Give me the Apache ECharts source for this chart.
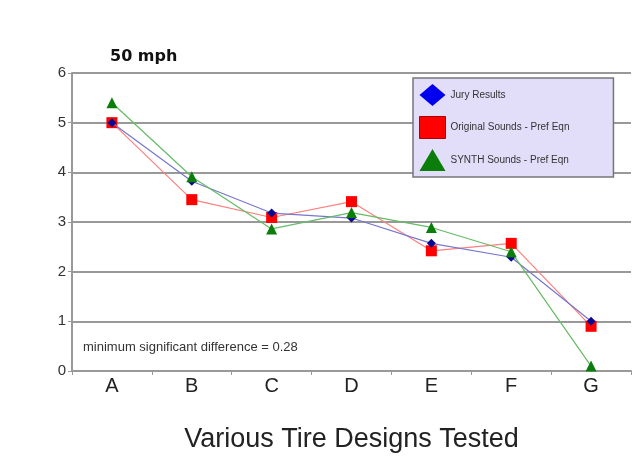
<!DOCTYPE html>
<html>
<head>
<meta charset="utf-8">
<script src="https://cdn.jsdelivr.net/npm/echarts@6/dist/echarts.min.js"></script>
<style>
  html, body { margin: 0; padding: 0; background: #fff; }
  #chart { width: 634px; height: 458px; }
</style>
</head>
<body>
<div id="chart"></div>
<script>
// tire designs on the x axis
const categories = ['A', 'B', 'C', 'D', 'E', 'F', 'G']
const yTicks = [0, 1, 2, 3, 4, 5, 6]

const juryResults = [5.0, 3.82, 3.18, 3.08, 2.57, 2.29, 1.0]
const originalSounds = [5.0, 3.45, 3.09, 3.41, 2.42, 2.57, 0.9]
const synthSounds = [5.4, 3.91, 2.86, 3.19, 2.89, 2.4, 0.1]

const chart = echarts.init(document.getElementById('chart'))

chart.setOption({
  animation: false,
  textStyle: { fontFamily: 'Liberation Sans, Arial, sans-serif' },
  title: {
    text: '50 mph',
    left: 105,
    top: 44,
    textStyle: { fontSize: 16, fontWeight: 'bold', color: '#111', fontFamily: 'DejaVu Sans, sans-serif' }
  },
  grid: { left: 72, right: 3, top: 73, bottom: 87, outerBoundsMode: 'none' },
  legend: {
    orient: 'vertical',
    left: 413,
    top: 78,
    backgroundColor: '#e2ddf9',
    borderColor: '#777',
    borderWidth: 1.5,
    borderRadius: 0,
    padding: [6, 44, 6, 6],
    itemWidth: 26,
    itemHeight: 22,
    itemGap: 10,
    textStyle: { fontSize: 10, color: '#333' },
    data: [
      { name: 'Jury Results', icon: 'diamond', itemStyle: { color: '#0000ee' } },
      { name: 'Original Sounds - Pref Eqn', icon: 'rect', itemStyle: { color: '#ff0000', borderColor: '#a00', borderWidth: 1 } },
      { name: 'SYNTH Sounds - Pref Eqn', icon: 'triangle', itemStyle: { color: '#0a7d0a' } }
    ]
  },
  xAxis: {
    type: 'category',
    data: categories,
    boundaryGap: true,
    name: 'Various Tire Designs Tested',
    nameLocation: 'middle',
    nameGap: 55,
    nameTextStyle: { fontSize: 27, color: '#222' },
    axisLine: { lineStyle: { color: '#999', width: 2 } },
    axisTick: { show: true, length: 4, lineStyle: { color: '#999' } },
    axisLabel: { fontSize: 20, color: '#222', margin: 5 }
  },
  yAxis: {
    type: 'value',
    min: yTicks[0],
    max: yTicks[yTicks.length - 1],
    interval: 1,
    axisLine: { show: true, lineStyle: { color: '#999', width: 2 } },
    axisTick: { show: true, length: 4, lineStyle: { color: '#999' } },
    axisLabel: { fontSize: 15, color: '#333', margin: 6 },
    splitLine: { lineStyle: { color: '#999', width: 2 } }
  },
  graphic: [
    {
      type: 'text',
      left: 83,
      top: 341,
      style: { text: 'minimum significant difference = 0.28', fontSize: 13, fill: '#333', fontFamily: 'Liberation Sans, Arial, sans-serif' }
    }
  ],
  series: [
    {
      name: 'Jury Results',
      type: 'line',
      data: juryResults,
      symbol: 'diamond',
      symbolSize: 9,
      itemStyle: { color: '#0a0a90' },
      lineStyle: { color: '#7777cc', width: 1.2 },
      z: 3
    },
    {
      name: 'Original Sounds - Pref Eqn',
      type: 'line',
      data: originalSounds,
      symbol: 'rect',
      symbolSize: 11,
      itemStyle: { color: '#ff0000' },
      lineStyle: { color: '#ff7f7f', width: 1.2 },
      z: 2
    },
    {
      name: 'SYNTH Sounds - Pref Eqn',
      type: 'line',
      data: synthSounds,
      symbol: 'triangle',
      symbolSize: 11,
      itemStyle: { color: '#0a7d0a' },
      lineStyle: { color: '#66bb66', width: 1.2 },
      z: 4
    }
  ]
})
</script>
</body>
</html>
